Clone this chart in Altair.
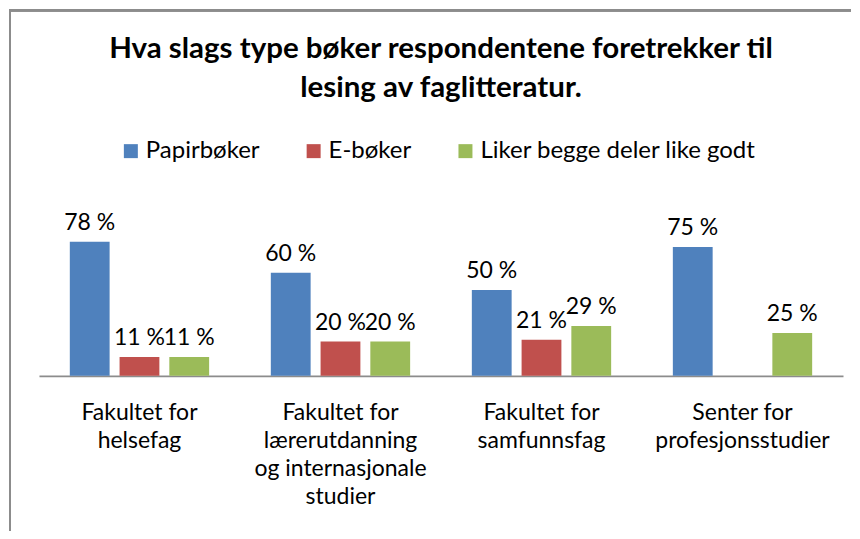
import altair as alt
import pandas as pd

categories = [
    "Fakultet for\nhelsefag",
    "Fakultet for\nlærerutdanning\nog internasjonale\nstudier",
    "Fakultet for\nsamfunnsfag",
    "Senter for\nprofesjonsstudier",
]
series = ["Papirbøker", "E-bøker", "Liker begge deler like godt"]
colors = ["#4F81BD", "#C0504D", "#9BBB59"]

papir = [0.78, 0.60, 0.50, 0.75]
ebok = [0.11, 0.20, 0.21, None]
begge = [0.11, 0.20, 0.29, 0.25]

rows = []
for i, c in enumerate(categories):
    for s, vals in zip(series, [papir, ebok, begge]):
        v = vals[i]
        if v is None:
            continue
        rows.append({"kategori": c, "type": s, "verdi": v, "etikett": f"{round(v*100)} %"})
df = pd.DataFrame(rows)

FONT = "Lato"
W, H = 805, 172

x = alt.X("kategori:N", sort=categories,
          scale=alt.Scale(paddingInner=0, paddingOuter=0),
          axis=alt.Axis(title=None, labelAngle=0, ticks=False,
                        labelExpr="split(datum.value, '\\n')",
                        labelFontSize=23, labelFont=FONT, labelColor="#000000",
                        labelLineHeight=28, labelPadding=26,
                        domainColor="#8c8c8c", domainWidth=2, labelLimit=300))
xo = alt.XOffset("type:N", sort=series,
                 scale=alt.Scale(paddingInner=0.2, paddingOuter=0.62))
y = alt.Y("verdi:Q", scale=alt.Scale(domain=[0, 1]), axis=None)

bars = alt.Chart(df).mark_bar().encode(
    x=x, xOffset=xo, y=y,
    color=alt.Color("type:N", sort=series,
                    scale=alt.Scale(domain=series, range=colors),
                    legend=alt.Legend(title=None, orient="none", direction="horizontal",
                                      legendX=80, legendY=-65,
                                      symbolType="square", symbolSize=196,
                                      symbolStrokeWidth=0, labelFontSize=24,
                                      labelFont=FONT, labelColor="#000000",
                                      labelOffset=3, columnPadding=42,
                                      labelLimit=400)),
)

labels = alt.Chart(df).mark_text(baseline="alphabetic", dy=-12, fontSize=23,
                                 font=FONT, color="#000000").encode(
    x=x, xOffset=xo, y=y, text="etikett:N")

border_top = alt.Chart(df).mark_rule(color="#8c8c8c", strokeWidth=2, clip=False).encode(
    x=alt.value(-30), x2=alt.value(813), y=alt.value(-194))
border_left = alt.Chart(df).mark_rule(color="#8c8c8c", strokeWidth=2, clip=False).encode(
    x=alt.value(-29), y=alt.value(-195), y2=alt.value(327))

chart = alt.layer(bars, labels, border_top, border_left).properties(
    width=W, height=H,
    padding={"left": 0, "top": 0, "right": 0, "bottom": 0},
    title=alt.TitleParams(
        text=["Hva slags type bøker respondentene foretrekker til",
              "lesing av faglitteratur."],
        font=FONT, fontSize=29.5, fontWeight="bold", color="#000000",
        lineHeight=39, anchor="middle", offset=-95),
).configure_view(stroke=None)

chart.save("out.html", embed_options={"renderer": "svg", "actions": False})
